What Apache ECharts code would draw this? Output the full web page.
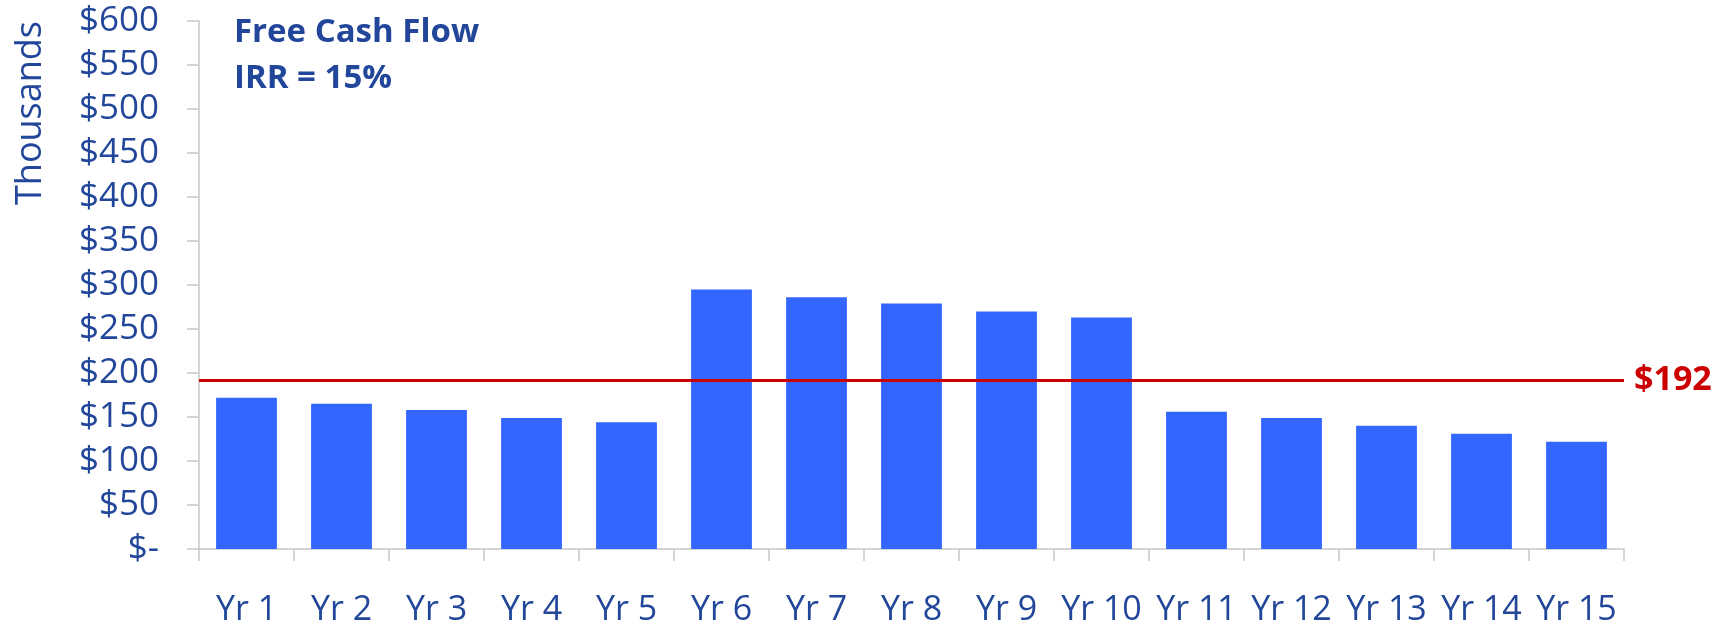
<!DOCTYPE html>
<html>
<head>
<meta charset="utf-8">
<script src="https://cdn.jsdelivr.net/npm/echarts@6/dist/echarts.min.js"></script>
<style>
  html, body { margin: 0; padding: 0; background: #fff; }
  #main { width: 1726px; height: 625px; }
</style>
</head>
<body>
<div id="main"></div>
<script>
var years = ['Yr 1', 'Yr 2', 'Yr 3', 'Yr 4', 'Yr 5', 'Yr 6', 'Yr 7', 'Yr 8',
             'Yr 9', 'Yr 10', 'Yr 11', 'Yr 12', 'Yr 13', 'Yr 14', 'Yr 15'];
// free cash flow, thousands of $
var cashFlow = [172, 165, 158, 149, 144, 295, 286, 279, 270, 263, 156, 149, 140, 131, 122];
var averageFlow = 192;
var titleLines = ['Free Cash Flow', 'IRR = 15%'];

var blue = '#22479a';
var fontName = '"Open Sans", "Noto Sans", sans-serif';

var myChart = echarts.init(document.getElementById('main'));

var option = {
    backgroundColor: '#fff',
    animation: false,
    title: {
        text: titleLines.join('\n'),
        left: 229,
        top: 5,
        textStyle: {
            color: blue,
            fontFamily: fontName,
            fontWeight: 'bold',
            fontSize: 33,
            lineHeight: 46
        }
    },
    graphic: [{
        type: 'text',
        x: 31,
        y: 113,
        rotation: Math.PI / 2,
        style: {
            text: 'Thousands',
            fill: blue,
            font: '36px ' + fontName,
            align: 'center',
            verticalAlign: 'middle'
        }
    }],
    grid: {
        left: 199,
        right: 102,
        top: 21,
        bottom: 76,
        containLabel: false,
        outerBoundsMode: 'none'
    },
    xAxis: {
        type: 'category',
        data: years,
        boundaryGap: true,
        axisLine: { lineStyle: { color: '#c8c8c8', width: 1.5 } },
        axisTick: { show: true, length: 12, alignWithLabel: false, lineStyle: { color: '#c8c8c8', width: 1.5 } },
        axisLabel: {
            color: blue,
            fontFamily: fontName,
            fontSize: 34,
            margin: 44,
            interval: 0
        }
    },
    yAxis: {
        type: 'value',
        min: 0,
        max: 600,
        interval: 50,
        splitLine: { show: false },
        axisLine: { show: true, lineStyle: { color: '#c8c8c8', width: 1.5 } },
        axisTick: { show: true, length: 12, lineStyle: { color: '#c8c8c8', width: 1.5 } },
        axisLabel: {
            color: blue,
            fontFamily: fontName,
            fontSize: 35,
            margin: 40,
            formatter: function (v) {
                return v === 0 ? '$-' : '$' + v;
            }
        }
    },
    series: [{
        name: 'Free Cash Flow',
        type: 'bar',
        data: cashFlow,
        barWidth: '64%',
        itemStyle: { color: '#3366ff' },
        markLine: {
            symbol: 'none',
            silent: true,
            lineStyle: { color: '#cc0000', width: 3, type: 'solid' },
            label: {
                show: true,
                position: 'end',
                distance: 10,
                formatter: '$' + averageFlow,
                color: '#cc0000',
                fontFamily: fontName,
                fontWeight: 'bold',
                fontSize: 34
            },
            data: [{ yAxis: averageFlow }]
        }
    }]
};

myChart.setOption(option);
</script>
</body>
</html>
